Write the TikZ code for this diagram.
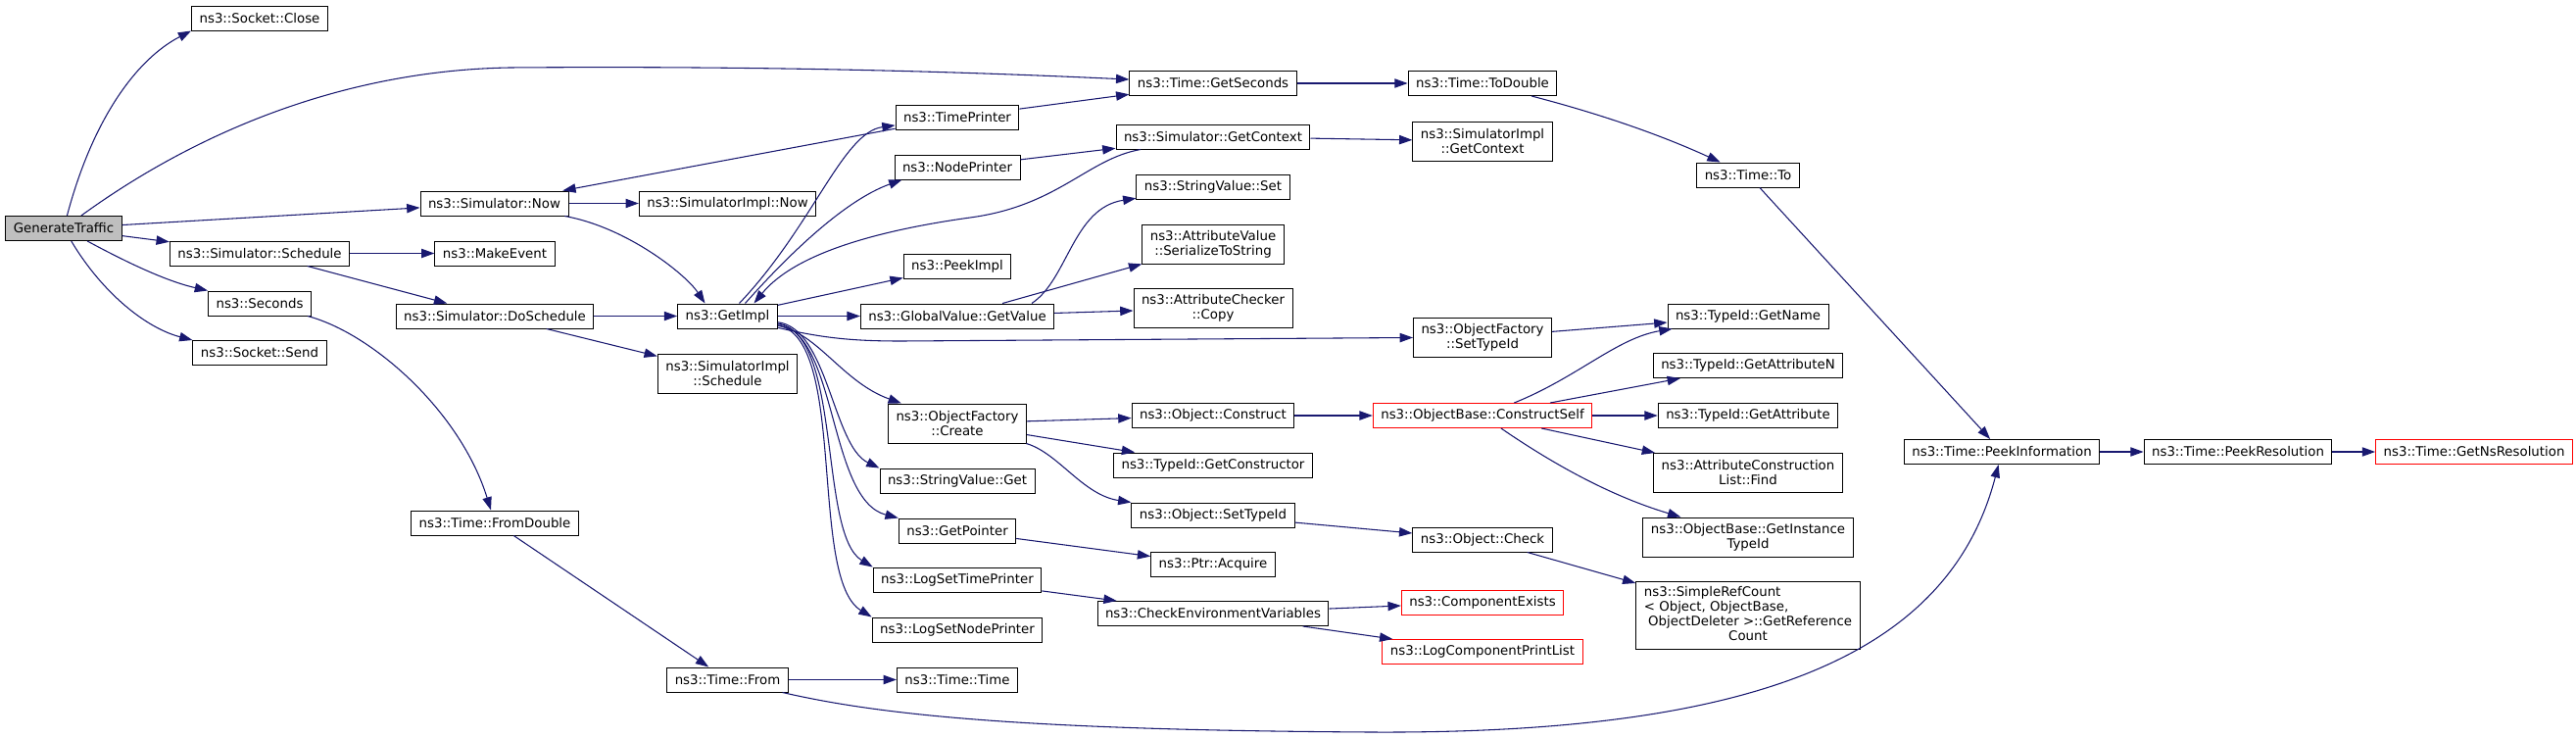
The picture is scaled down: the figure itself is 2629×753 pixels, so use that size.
\documentclass[tikz,border=0pt]{standalone}
\usepackage{fontspec}
\setmainfont{DejaVu Sans}
\usetikzlibrary{arrows.meta,calc}
\definecolor{edgeblue}{HTML}{191970}
\definecolor{rootgrey}{HTML}{BFBFBF}

\begin{document}
\begin{tikzpicture}[x=0.75pt,y=-0.75pt,
  fn/.style={draw=black, fill=white, line width=0.75pt, inner xsep=6pt, inner ysep=0pt,
    minimum height=18.75pt, align=center, font=\fontsize{10}{11.25}\selectfont},
  fntwo/.style={fn, minimum height=30pt},
  trunc/.style={fn, draw=red},
  call/.style={draw=edgeblue, line width=0.8pt, -{Triangle[length=10pt,width=7pt]}}]

\useasboundingbox (0,0) rectangle (2629,753);

% caller
\node[fn, fill=rootgrey] (gt) at (65,233) {GenerateTraffic};

% column 2
\node[fn] (close) at (265,18.5) {ns3::Socket::Close};
\node[fn] (sched) at (265,258.5) {ns3::Simulator::Schedule};
\node[fn] (secs) at (265,309.5) {ns3::Seconds};
\node[fn] (send) at (265,360) {ns3::Socket::Send};

% column 3
\node[fn] (now) at (504.5,207.5) {ns3::Simulator::Now};
\node[fn] (mkev) at (505,258.5) {ns3::MakeEvent};
\node[fn] (dosch) at (505,322.5) {ns3::Simulator::DoSchedule};
\node[fn] (fromdbl) at (505,533.5) {ns3::Time::FromDouble};

% column 4
\node[fn] (implnow) at (742.5,207.5) {ns3::SimulatorImpl::Now};
\node[fn] (getimpl) at (742.5,322.5) {ns3::GetImpl};
\node[fntwo] (implsch) at (742.5,381) {ns3::SimulatorImpl\\::Schedule};
\node[fn] (from) at (742.5,693.5) {ns3::Time::From};

% column 5
\node[fn] (tprint) at (977,119.5) {ns3::TimePrinter};
\node[fn] (nprint) at (977,170.5) {ns3::NodePrinter};
\node[fn] (peek) at (977,271.5) {ns3::PeekImpl};
\node[fn] (gvget) at (977,322.5) {ns3::GlobalValue::GetValue};
\node[fntwo] (ofcreate) at (977,432) {ns3::ObjectFactory\\::Create};
\node[fn] (svget) at (977,490.5) {ns3::StringValue::Get};
\node[fn] (getptr) at (977,541.5) {ns3::GetPointer};
\node[fn] (logtp) at (977,591.5) {ns3::LogSetTimePrinter};
\node[fn] (lognp) at (977,642.5) {ns3::LogSetNodePrinter};
\node[fn] (ttime) at (977,693.5) {ns3::Time::Time};

% column 6
\node[fn] (getsec) at (1238,85) {ns3::Time::GetSeconds};
\node[fn] (getctx) at (1238,139.5) {ns3::Simulator::GetContext};
\node[fn] (svset) at (1238,190.5) {ns3::StringValue::Set};
\node[fntwo] (ser) at (1238,249) {ns3::AttributeValue\\::SerializeToString};
\node[fntwo] (chk) at (1238,314.5) {ns3::AttributeChecker\\::Copy};
\node[fn] (construct) at (1238,424) {ns3::Object::Construct};
\node[fn] (getctor) at (1238,474.5) {ns3::TypeId::GetConstructor};
\node[fn] (osettid) at (1238,525.5) {ns3::Object::SetTypeId};
\node[fn] (acquire) at (1238,576) {ns3::Ptr::Acquire};
\node[fn] (cenv) at (1238,626) {ns3::CheckEnvironmentVariables};

% column 7
\node[fn] (todbl) at (1513,85) {ns3::Time::ToDouble};
\node[fntwo] (implctx) at (1513,144) {ns3::SimulatorImpl\\::GetContext};
\node[fntwo] (ofset) at (1513,344) {ns3::ObjectFactory\\::SetTypeId};
\node[trunc] (cself) at (1513,424) {ns3::ObjectBase::ConstructSelf};
\node[fn] (ocheck) at (1513,550.5) {ns3::Object::Check};
\node[trunc] (compex) at (1513,614.5) {ns3::ComponentExists};
\node[trunc] (logcpl) at (1513,665) {ns3::LogComponentPrintList};

% column 8
\node[fn] (timeto) at (1784,178.5) {ns3::Time::To};
\node[fn] (getname) at (1784,322.5) {ns3::TypeId::GetName};
\node[fn] (getattrn) at (1784,373) {ns3::TypeId::GetAttributeN};
\node[fn] (getattr) at (1784,424) {ns3::TypeId::GetAttribute};
\node[fntwo] (acfind) at (1784,482.5) {ns3::AttributeConstruction\\List::Find};
\node[fntwo] (instid) at (1784,548) {ns3::ObjectBase::GetInstance\\TypeId};
\node[fn, minimum height=51.75pt] (refcnt) at (1784,627.5) {\begin{tabular}{@{}l@{}}ns3::SimpleRefCount\\\textless{} Object, ObjectBase,\\\ ObjectDeleter \textgreater::GetReference\\\multicolumn{1}{@{}c@{}}{Count}\end{tabular}};

% columns 9 to 11
\node[fn] (peekinfo) at (2043,461) {ns3::Time::PeekInformation};
\node[fn] (peekres) at (2284,461) {ns3::Time::PeekResolution};
\node[trunc] (getns) at (2525,461) {ns3::Time::GetNsResolution};

% calls of GenerateTraffic
\draw[call] (gt) .. controls (95,120) and (140,60) .. (close.south west);
\draw[call] (gt) .. controls (200,135) and (350,72) .. (520,69) .. controls (800,67) and (1000,74) .. (getsec);
\draw[call] (gt) -- (now);
\draw[call] (gt) -- (sched);
\draw[call] (gt) .. controls (130,268) and (170,287) .. (secs.north west);
\draw[call] (gt) .. controls (105,300) and (150,335) .. (send.north west);

% simulator side
\draw[call] (now) -- (implnow);
\draw[call] (now) .. controls (640,232) and (700,280) .. ($(getimpl.north)+(-23,0)$);
\draw[call] (sched) -- (mkev);
\draw[call] (sched) -- (dosch);
\draw[call] (secs) .. controls (380,340) and (470,420) .. (fromdbl);
\draw[call] (dosch) -- (getimpl);
\draw[call] (dosch) -- (implsch);
\draw[call] (tprint) -- (getsec);
\draw[call] (tprint) -- (now);
\draw[call] ($(getimpl.north)+(12,0)$) .. controls (830,230) and (860,135) .. (tprint);
\draw[call] ($(getimpl.north)+(18,0)$) .. controls (800,265) and (860,205) .. ($(nprint.south west)+(8,0)$);
\draw[call] (nprint) -- (getctx);
\draw[call] (getctx) .. controls (1110,162) and (1080,210) .. (990,222) .. controls (890,236) and (810,260) .. ($(getimpl.north)+(27,0)$);
\draw[call] (getctx) -- (implctx);
\draw[call] (getsec) -- (todbl);
\draw[call] (todbl) .. controls (1640,118) and (1700,140) .. (timeto);
\draw[call] (timeto) -- (peekinfo);

% calls of GetImpl
\draw[call] (getimpl) -- (peek);
\draw[call] (getimpl) -- (gvget);
\draw[call] (getimpl) .. controls (840,345) and (870,348) .. (920,348) -- (ofset);
\draw[call] (getimpl) .. controls (835,340) and (860,390) .. (ofcreate);
\draw[call] (getimpl) .. controls (845,335) and (850,455) .. (svget.north west);
\draw[call] (getimpl) .. controls (855,340) and (845,510) .. (getptr.north west);
\draw[call] (getimpl) .. controls (860,340) and (835,545) .. (logtp.north west);
\draw[call] (getimpl) .. controls (865,345) and (825,590) .. (lognp.north west);

% global values
\draw[call] ($(gvget.north)+(76,0)$) .. controls (1090,285) and (1095,212) .. (svset);
\draw[call] (gvget) -- (ser);
\draw[call] (gvget) -- (chk);

% objects
\draw[call] (ofset) -- (getname);
\draw[call] (ofcreate) -- (construct);
\draw[call] (ofcreate) -- (getctor);
\draw[call] (ofcreate) .. controls (1080,462) and (1105,505) .. (osettid.north west);
\draw[call] (construct) -- (cself);
\draw[call] (cself) .. controls (1610,385) and (1650,345) .. (getname);
\draw[call] (cself) -- (getattrn);
\draw[call] (cself) -- (getattr);
\draw[call] (cself) -- (acfind);
\draw[call] (cself) .. controls (1580,470) and (1640,505) .. (instid);
\draw[call] (osettid) -- (ocheck);
\draw[call] (ocheck) -- (refcnt);
\draw[call] (getptr) -- (acquire);

% logging
\draw[call] (logtp) -- (cenv);
\draw[call] (cenv) -- (compex);
\draw[call] (cenv) -- (logcpl);

% time
\draw[call] (peekinfo) -- (peekres);
\draw[call] (peekres) -- (getns);
\draw[call] (fromdbl) -- (from);
\draw[call] (from) -- (ttime);
\draw[call] (from) .. controls (900,730) and (1050,745) .. (1400,747) .. controls (1800,749) and (1990,665) .. (peekinfo);

\end{tikzpicture}
\end{document}
